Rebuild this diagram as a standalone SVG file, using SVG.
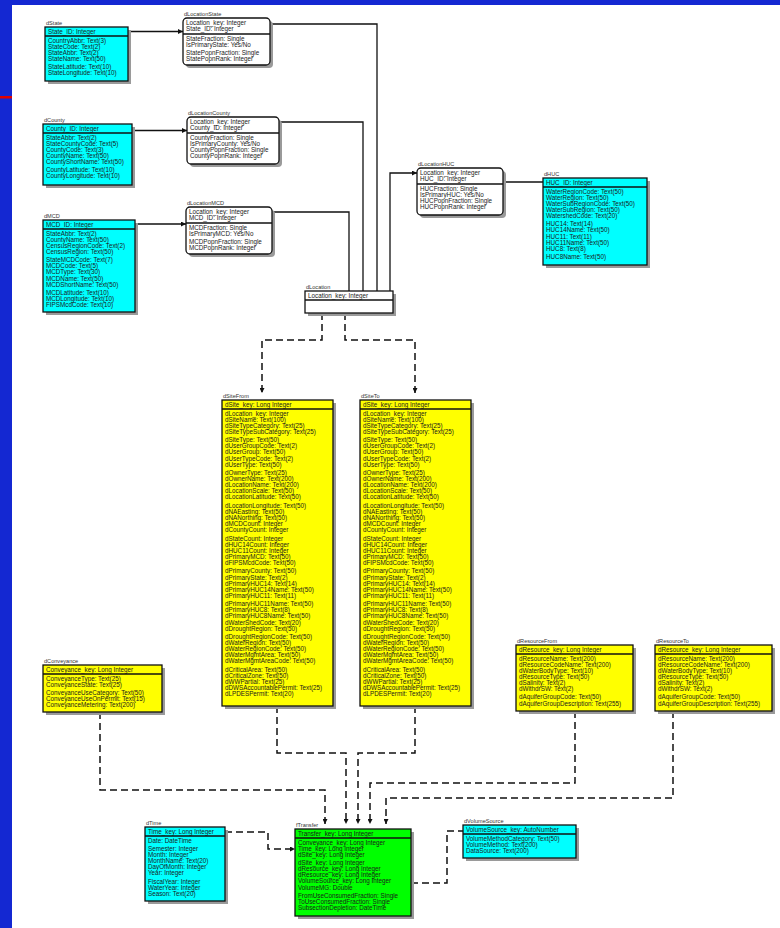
<svg xmlns="http://www.w3.org/2000/svg" width="780" height="928" viewBox="0 0 780 928">
<style>
  .bg{fill:#1428d2}
  .panel{fill:#ffffff}
  .sh{fill:#9a9a9a}
  .box{stroke:#111;stroke-width:1.3}
  .cy{fill:#00ffff}
  .ye{fill:#ffff00}
  .gr{fill:#00ff00}
  .wh{fill:#ffffff}
  .sep{stroke:#111;stroke-width:1.3}
  text{font-family:"Liberation Sans",Arial,sans-serif;font-size:6.3px;fill:#1a1a1a}
  .lb{font-size:5.6px;fill:#333}
  .solid{fill:none;stroke:#111;stroke-width:1.3}
  .dash{fill:none;stroke:#111;stroke-width:1.5;stroke-dasharray:7 4}
</style>
<defs>
  <marker id="ah" viewBox="0 0 6 6" refX="6" refY="3" markerWidth="5" markerHeight="5" markerUnits="userSpaceOnUse" orient="auto">
    <path d="M0,0 L6,3 L0,6 z" fill="#111"/>
  </marker>
</defs>

<!-- slide background -->
<rect class="bg" x="0" y="0" width="780" height="928"/>
<rect class="panel" x="12" y="5" width="768" height="923"/>
<rect x="0" y="96" width="12" height="2.5" fill="#e00000"/>

<!-- relationship lines -->
<g id="connectors">
  <path class="solid" d="M128,31.5 H183" marker-end="url(#ah)"/>
  <path class="solid" d="M270,24 H377 V291"/>
  <path class="solid" d="M132,130.5 H187" marker-end="url(#ah)"/>
  <path class="solid" d="M279,122 H363 V291"/>
  <path class="solid" d="M135,224 H186" marker-end="url(#ah)"/>
  <path class="solid" d="M272,212 H349 V291"/>
  <path class="solid" d="M390,291 V173 H417" marker-end="url(#ah)"/>
  <path class="solid" d="M543,182 H503"/>

  <path class="dash" d="M322,313 V340 H262 V393" marker-end="url(#ah)"/>
  <path class="dash" d="M345,313 V340 H415 V393" marker-end="url(#ah)"/>
  <path class="dash" d="M277,706 V753 H346 V824" marker-end="url(#ah)"/>
  <path class="dash" d="M415,706 V753 H358 V824" marker-end="url(#ah)"/>
  <path class="dash" d="M100,712 V790 H325 V824" marker-end="url(#ah)"/>
  <path class="dash" d="M575,711 V783 H370 V824" marker-end="url(#ah)"/>
  <path class="dash" d="M673,711 V798 H386 V824" marker-end="url(#ah)"/>
  <path class="dash" d="M225,832 H268 V849 H295" marker-end="url(#ah)"/>
  <path class="dash" d="M411,883 H447 V831 H463"/>
</g>

<!-- dState -->
<g id="dState">
  <text class="lb" x="46" y="25">dState</text>
  <rect class="sh" x="48" y="30" width="83" height="54"/>
  <rect class="box cy" x="45" y="27" width="83" height="54"/>
  <line class="sep" x1="45" y1="36" x2="128" y2="36"/>
  <text x="48" y="33.8">State_ID: Integer</text>
  <text><tspan x="48" y="42.5">CountryAbbr: Text(3)</tspan><tspan x="48" y="48.6">StateCode: Text(2)</tspan><tspan x="48" y="54.7">StateAbbr: Text(2)</tspan><tspan x="48" y="60.8">StateName: Text(50)</tspan><tspan x="48" y="69.2">StateLatitude: Text(10)</tspan><tspan x="48" y="75.3">StateLongitude: Text(10)</tspan></text>
</g>

<!-- dLocationState -->
<g id="dLocationState">
  <text class="lb" x="184" y="16">dLocationState</text>
  <rect class="sh" x="186" y="21" width="87" height="47" rx="4"/>
  <rect class="box wh" x="183" y="18" width="87" height="47" rx="4"/>
  <line class="sep" x1="183" y1="34" x2="270" y2="34"/>
  <text><tspan x="186" y="24.5">Location_key: Integer</tspan><tspan x="186" y="30.6">State_ID: Integer</tspan></text>
  <text><tspan x="186" y="40.5">StateFraction: Single</tspan><tspan x="186" y="46.6">IsPrimaryState: Yes/No</tspan><tspan x="186" y="55">StatePopnFraction: Single</tspan><tspan x="186" y="61.1">StatePopnRank: Integer</tspan></text>
</g>

<!-- dCounty -->
<g id="dCounty">
  <text class="lb" x="44" y="122">dCounty</text>
  <rect class="sh" x="46" y="127" width="89" height="61"/>
  <rect class="box cy" x="43" y="124" width="89" height="61"/>
  <line class="sep" x1="43" y1="133" x2="132" y2="133"/>
  <text x="46" y="130.8">County_ID: Integer</text>
  <text><tspan x="46" y="139.5">StateAbbr: Text(2)</tspan><tspan x="46" y="145.6">StateCountyCode: Text(5)</tspan><tspan x="46" y="151.7">CountyCode: Text(3)</tspan><tspan x="46" y="157.8">CountyName: Text(50)</tspan><tspan x="46" y="163.9">CountyShortName: Text(50)</tspan><tspan x="46" y="172.3">CountyLatitude: Text(10)</tspan><tspan x="46" y="178.4">CountyLongitude: Text(10)</tspan></text>
</g>

<!-- dLocationCounty -->
<g id="dLocationCounty">
  <text class="lb" x="188" y="115">dLocationCounty</text>
  <rect class="sh" x="190" y="120" width="92" height="47" rx="4"/>
  <rect class="box wh" x="187" y="117" width="92" height="47" rx="4"/>
  <line class="sep" x1="187" y1="133" x2="279" y2="133"/>
  <text><tspan x="190" y="123.5">Location_key: Integer</tspan><tspan x="190" y="129.6">County_ID: Integer</tspan></text>
  <text><tspan x="190" y="139.5">CountyFraction: Single</tspan><tspan x="190" y="145.6">IsPrimaryCounty: Yes/No</tspan><tspan x="190" y="151.7">CountyPopnFraction: Single</tspan><tspan x="190" y="157.8">CountyPopnRank: Integer</tspan></text>
</g>

<!-- dMCD -->
<g id="dMCD">
  <text class="lb" x="44" y="218">dMCD</text>
  <rect class="sh" x="46" y="223" width="92" height="92"/>
  <rect class="box cy" x="43" y="220" width="92" height="92"/>
  <line class="sep" x1="43" y1="229" x2="135" y2="229"/>
  <text x="46" y="226.8">MCD_ID: Integer</text>
  <text><tspan x="46" y="235.5">StateAbbr: Text(2)</tspan><tspan x="46" y="241.6">CountyName: Text(50)</tspan><tspan x="46" y="247.7">CensusRegionCode: Text(2)</tspan><tspan x="46" y="253.8">CensusRegion: Text(50)</tspan><tspan x="46" y="262.2">StateMCDCode: Text(7)</tspan><tspan x="46" y="268.3">MCDCode: Text(5)</tspan><tspan x="46" y="274.4">MCDType: Text(30)</tspan><tspan x="46" y="280.5">MCDName: Text(50)</tspan><tspan x="46" y="286.6">MCDShortName: Text(50)</tspan><tspan x="46" y="295">MCDLatitude: Text(10)</tspan><tspan x="46" y="301.1">MCDLongitude: Text(10)</tspan><tspan x="46" y="307.2">FIPSMcdCode: Text(10)</tspan></text>
</g>

<!-- dLocationMCD -->
<g id="dLocationMCD">
  <text class="lb" x="187" y="205">dLocationMCD</text>
  <rect class="sh" x="189" y="210" width="86" height="47" rx="4"/>
  <rect class="box wh" x="186" y="207" width="86" height="47" rx="4"/>
  <line class="sep" x1="186" y1="223" x2="272" y2="223"/>
  <text><tspan x="189" y="213.5">Location_key: Integer</tspan><tspan x="189" y="219.6">MCD_ID: Integer</tspan></text>
  <text><tspan x="189" y="229.5">MCDFraction: Single</tspan><tspan x="189" y="235.6">IsPrimaryMCD: Yes/No</tspan><tspan x="189" y="244">MCDPopnFraction: Single</tspan><tspan x="189" y="250.1">MCDPopnRank: Integer</tspan></text>
</g>

<!-- dLocationHUC -->
<g id="dLocationHUC">
  <text class="lb" x="418" y="166">dLocationHUC</text>
  <rect class="sh" x="420" y="171" width="86" height="47" rx="4"/>
  <rect class="box wh" x="417" y="168" width="86" height="47" rx="4"/>
  <line class="sep" x1="417" y1="184" x2="503" y2="184"/>
  <text><tspan x="420" y="174.5">Location_key: Integer</tspan><tspan x="420" y="180.6">HUC_ID: Integer</tspan></text>
  <text><tspan x="420" y="190.5">HUCFraction: Single</tspan><tspan x="420" y="196.6">IsPrimaryHUC: Yes/No</tspan><tspan x="420" y="202.7">HUCPopnFraction: Single</tspan><tspan x="420" y="208.8">HUCPopnRank: Integer</tspan></text>
</g>

<!-- dHUC -->
<g id="dHUC">
  <text class="lb" x="544" y="176">dHUC</text>
  <rect class="sh" x="546" y="181" width="104" height="87"/>
  <rect class="box cy" x="543" y="178" width="104" height="87"/>
  <line class="sep" x1="543" y1="187" x2="647" y2="187"/>
  <text x="546" y="184.8">HUC_ID: Integer</text>
  <text><tspan x="546" y="193.5">WaterRegionCode: Text(50)</tspan><tspan x="546" y="199.6">WaterRegion: Text(50)</tspan><tspan x="546" y="205.7">WaterSubRegionCode: Text(50)</tspan><tspan x="546" y="211.8">WaterSubRegion: Text(50)</tspan><tspan x="546" y="217.9">WatershedCode: Text(20)</tspan><tspan x="546" y="226.3">HUC14: Text(14)</tspan><tspan x="546" y="232.4">HUC14Name: Text(50)</tspan><tspan x="546" y="238.5">HUC11: Text(11)</tspan><tspan x="546" y="244.6">HUC11Name: Text(50)</tspan><tspan x="546" y="250.7">HUC8: Text(8)</tspan><tspan x="546" y="259.1">HUC8Name: Text(50)</tspan></text>
</g>

<!-- dLocation -->
<g id="dLocation">
  <text class="lb" x="306" y="289">dLocation</text>
  <rect class="sh" x="308" y="294" width="88" height="22"/>
  <rect class="box wh" x="305" y="291" width="88" height="22"/>
  <line class="sep" x1="305" y1="300" x2="393" y2="300"/>
  <text x="308" y="297.8">Location_key: Integer</text>
</g>

<!-- dSiteFrom -->
<g id="dSiteFrom">
  <text class="lb" x="223" y="398">dSiteFrom</text>
  <rect class="sh" x="225" y="403" width="111" height="306"/>
  <rect class="box ye" x="222" y="400" width="111" height="306"/>
  <line class="sep" x1="222" y1="409" x2="333" y2="409"/>
  <text x="225" y="406.8">dSite_key: Long Integer</text>
  <text><tspan x="225" y="415.5">dLocation_key: Integer</tspan><tspan x="225" y="421.6">dSiteName: Text(100)</tspan><tspan x="225" y="427.7">dSiteTypeCategory: Text(25)</tspan><tspan x="225" y="433.8">dSiteTypeSubCategory: Text(25)</tspan><tspan x="225" y="442.2">dSiteType: Text(50)</tspan><tspan x="225" y="448.3">dUserGroupCode: Text(2)</tspan><tspan x="225" y="454.4">dUserGroup: Text(50)</tspan><tspan x="225" y="460.5">dUserTypeCode: Text(2)</tspan><tspan x="225" y="466.6">dUserType: Text(50)</tspan><tspan x="225" y="475">dOwnerType: Text(25)</tspan><tspan x="225" y="481.1">dOwnerName: Text(200)</tspan><tspan x="225" y="487.2">dLocationName: Text(200)</tspan><tspan x="225" y="493.3">dLocationScale: Text(50)</tspan><tspan x="225" y="499.4">dLocationLatitude: Text(50)</tspan><tspan x="225" y="507.8">dLocationLongitude: Text(50)</tspan><tspan x="225" y="513.9">dNAEasting: Text(50)</tspan><tspan x="225" y="520">dNANorthing: Text(50)</tspan><tspan x="225" y="526.1">dMCDCount: Integer</tspan><tspan x="225" y="532.2">dCountyCount: Integer</tspan><tspan x="225" y="540.6">dStateCount: Integer</tspan><tspan x="225" y="546.7">dHUC14Count: Integer</tspan><tspan x="225" y="552.8">dHUC11Count: Integer</tspan><tspan x="225" y="558.9">dPrimaryMCD: Text(50)</tspan><tspan x="225" y="565">dFIPSMcdCode: Text(50)</tspan><tspan x="225" y="573.4">dPrimaryCounty: Text(50)</tspan><tspan x="225" y="579.5">dPrimaryState: Text(2)</tspan><tspan x="225" y="585.6">dPrimaryHUC14: Text(14)</tspan><tspan x="225" y="591.7">dPrimaryHUC14Name: Text(50)</tspan><tspan x="225" y="597.8">dPrimaryHUC11: Text(11)</tspan><tspan x="225" y="606.2">dPrimaryHUC11Name: Text(50)</tspan><tspan x="225" y="612.3">dPrimaryHUC8: Text(8)</tspan><tspan x="225" y="618.4">dPrimaryHUC8Name: Text(50)</tspan><tspan x="225" y="624.5">dWaterShedCode: Text(20)</tspan><tspan x="225" y="630.6">dDroughtRegion: Text(50)</tspan><tspan x="225" y="639">dDroughtRegionCode: Text(50)</tspan><tspan x="225" y="645.1">dWaterRegion: Text(50)</tspan><tspan x="225" y="651.2">dWaterRegionCode: Text(50)</tspan><tspan x="225" y="657.3">dWaterMgmtArea: Text(50)</tspan><tspan x="225" y="663.4">dWaterMgmtAreaCode: Text(50)</tspan><tspan x="225" y="671.8">dCriticalArea: Text(50)</tspan><tspan x="225" y="677.9">dCriticalZone: Text(50)</tspan><tspan x="225" y="684">dWWPartial: Text(25)</tspan><tspan x="225" y="690.1">dDWSAccountablePermit: Text(25)</tspan><tspan x="225" y="696.2">dLPDESPermit: Text(20)</tspan></text>
</g>

<!-- dSiteTo -->
<g id="dSiteTo">
  <text class="lb" x="361" y="398">dSiteTo</text>
  <rect class="sh" x="363" y="403" width="111" height="306"/>
  <rect class="box ye" x="360" y="400" width="111" height="306"/>
  <line class="sep" x1="360" y1="409" x2="471" y2="409"/>
  <text x="363" y="406.8">dSite_key: Long Integer</text>
  <text><tspan x="363" y="415.5">dLocation_key: Integer</tspan><tspan x="363" y="421.6">dSiteName: Text(100)</tspan><tspan x="363" y="427.7">dSiteTypeCategory: Text(25)</tspan><tspan x="363" y="433.8">dSiteTypeSubCategory: Text(25)</tspan><tspan x="363" y="442.2">dSiteType: Text(50)</tspan><tspan x="363" y="448.3">dUserGroupCode: Text(2)</tspan><tspan x="363" y="454.4">dUserGroup: Text(50)</tspan><tspan x="363" y="460.5">dUserTypeCode: Text(2)</tspan><tspan x="363" y="466.6">dUserType: Text(50)</tspan><tspan x="363" y="475">dOwnerType: Text(25)</tspan><tspan x="363" y="481.1">dOwnerName: Text(200)</tspan><tspan x="363" y="487.2">dLocationName: Text(200)</tspan><tspan x="363" y="493.3">dLocationScale: Text(50)</tspan><tspan x="363" y="499.4">dLocationLatitude: Text(50)</tspan><tspan x="363" y="507.8">dLocationLongitude: Text(50)</tspan><tspan x="363" y="513.9">dNAEasting: Text(50)</tspan><tspan x="363" y="520">dNANorthing: Text(50)</tspan><tspan x="363" y="526.1">dMCDCount: Integer</tspan><tspan x="363" y="532.2">dCountyCount: Integer</tspan><tspan x="363" y="540.6">dStateCount: Integer</tspan><tspan x="363" y="546.7">dHUC14Count: Integer</tspan><tspan x="363" y="552.8">dHUC11Count: Integer</tspan><tspan x="363" y="558.9">dPrimaryMCD: Text(50)</tspan><tspan x="363" y="565">dFIPSMcdCode: Text(50)</tspan><tspan x="363" y="573.4">dPrimaryCounty: Text(50)</tspan><tspan x="363" y="579.5">dPrimaryState: Text(2)</tspan><tspan x="363" y="585.6">dPrimaryHUC14: Text(14)</tspan><tspan x="363" y="591.7">dPrimaryHUC14Name: Text(50)</tspan><tspan x="363" y="597.8">dPrimaryHUC11: Text(11)</tspan><tspan x="363" y="606.2">dPrimaryHUC11Name: Text(50)</tspan><tspan x="363" y="612.3">dPrimaryHUC8: Text(8)</tspan><tspan x="363" y="618.4">dPrimaryHUC8Name: Text(50)</tspan><tspan x="363" y="624.5">dWaterShedCode: Text(20)</tspan><tspan x="363" y="630.6">dDroughtRegion: Text(50)</tspan><tspan x="363" y="639">dDroughtRegionCode: Text(50)</tspan><tspan x="363" y="645.1">dWaterRegion: Text(50)</tspan><tspan x="363" y="651.2">dWaterRegionCode: Text(50)</tspan><tspan x="363" y="657.3">dWaterMgmtArea: Text(50)</tspan><tspan x="363" y="663.4">dWaterMgmtAreaCode: Text(50)</tspan><tspan x="363" y="671.8">dCriticalArea: Text(50)</tspan><tspan x="363" y="677.9">dCriticalZone: Text(50)</tspan><tspan x="363" y="684">dWWPartial: Text(25)</tspan><tspan x="363" y="690.1">dDWSAccountablePermit: Text(25)</tspan><tspan x="363" y="696.2">dLPDESPermit: Text(20)</tspan></text>
</g>

<!-- dConveyance -->
<g id="dConveyance">
  <text class="lb" x="44" y="663">dConveyance</text>
  <rect class="sh" x="46" y="668" width="119" height="47"/>
  <rect class="box ye" x="43" y="665" width="119" height="47"/>
  <line class="sep" x1="43" y1="674" x2="162" y2="674"/>
  <text x="46" y="671.8">Conveyance_key: Long Integer</text>
  <text><tspan x="46" y="680.5">ConveyanceType: Text(25)</tspan><tspan x="46" y="686.6">ConveyanceState: Text(25)</tspan><tspan x="46" y="695">ConveyanceUseCategory: Text(50)</tspan><tspan x="46" y="701.1">ConveyanceUseOnPermit: Text(15)</tspan><tspan x="46" y="707.2">ConveyanceMetering: Text(200)</tspan></text>
</g>

<!-- dResourceFrom -->
<g id="dResourceFrom">
  <text class="lb" x="517" y="643">dResourceFrom</text>
  <rect class="sh" x="519" y="648" width="117" height="66"/>
  <rect class="box ye" x="516" y="645" width="117" height="66"/>
  <line class="sep" x1="516" y1="654" x2="633" y2="654"/>
  <text x="519" y="651.8">dResource_key: Long Integer</text>
  <text><tspan x="519" y="660.5">dResourceName: Text(200)</tspan><tspan x="519" y="666.6">dResourceCodeName: Text(200)</tspan><tspan x="519" y="672.7">dWaterBodyType: Text(10)</tspan><tspan x="519" y="678.8">dResourceType: Text(50)</tspan><tspan x="519" y="684.9">dSalinity: Text(2)</tspan><tspan x="519" y="691">dWithdrSW: Text(2)</tspan><tspan x="519" y="699.4">dAquiferGroupCode: Text(50)</tspan><tspan x="519" y="705.5">dAquiferGroupDescription: Text(255)</tspan></text>
</g>

<!-- dResourceTo -->
<g id="dResourceTo">
  <text class="lb" x="656" y="643">dResourceTo</text>
  <rect class="sh" x="658" y="648" width="117" height="66"/>
  <rect class="box ye" x="655" y="645" width="117" height="66"/>
  <line class="sep" x1="655" y1="654" x2="772" y2="654"/>
  <text x="658" y="651.8">dResource_key: Long Integer</text>
  <text><tspan x="658" y="660.5">dResourceName: Text(200)</tspan><tspan x="658" y="666.6">dResourceCodeName: Text(200)</tspan><tspan x="658" y="672.7">dWaterBodyType: Text(10)</tspan><tspan x="658" y="678.8">dResourceType: Text(50)</tspan><tspan x="658" y="684.9">dSalinity: Text(2)</tspan><tspan x="658" y="691">dWithdrSW: Text(2)</tspan><tspan x="658" y="699.4">dAquiferGroupCode: Text(50)</tspan><tspan x="658" y="705.5">dAquiferGroupDescription: Text(255)</tspan></text>
</g>

<!-- dTime -->
<g id="dTime">
  <text class="lb" x="146" y="825">dTime</text>
  <rect class="sh" x="148" y="830" width="80" height="74"/>
  <rect class="box cy" x="145" y="827" width="80" height="74"/>
  <line class="sep" x1="145" y1="836" x2="225" y2="836"/>
  <text x="148" y="833.8">Time_key: Long Integer</text>
  <text><tspan x="148" y="842.5">Date: DateTime</tspan><tspan x="148" y="850.9">Semester: Integer</tspan><tspan x="148" y="857">Month: Integer</tspan><tspan x="148" y="863.1">MonthName: Text(20)</tspan><tspan x="148" y="869.2">DayOfMonth: Integer</tspan><tspan x="148" y="875.3">Year: Integer</tspan><tspan x="148" y="883.7">FiscalYear: Integer</tspan><tspan x="148" y="889.8">WaterYear: Integer</tspan><tspan x="148" y="895.9">Season: Text(20)</tspan></text>
</g>

<!-- fTransfer -->
<g id="fTransfer">
  <text class="lb" x="296" y="827">fTransfer</text>
  <rect class="sh" x="298" y="832" width="116" height="87"/>
  <rect class="box gr" x="295" y="829" width="116" height="87"/>
  <line class="sep" x1="295" y1="838" x2="411" y2="838"/>
  <text x="298" y="835.8">Transfer_key: Long Integer</text>
  <text><tspan x="298" y="844.5">Conveyance_key: Long Integer</tspan><tspan x="298" y="850.6">Time_key: Long Integer</tspan><tspan x="298" y="856.7">dSite_key: Long Integer</tspan><tspan x="298" y="865.1">dSite_key: Long Integer</tspan><tspan x="298" y="871.2">dResource_key: Long Integer</tspan><tspan x="298" y="877.3">dResource_key: Long Integer</tspan><tspan x="298" y="883.4">VolumeSource_key: Long Integer</tspan><tspan x="298" y="889.5">VolumeMG: Double</tspan><tspan x="298" y="897.9">FromUseConsumedFraction: Single</tspan><tspan x="298" y="904">ToUseConsumedFraction: Single</tspan><tspan x="298" y="910.1">SubsectionDepletion: DateTime</tspan></text>
</g>

<!-- dVolumeSource -->
<g id="dVolumeSource">
  <text class="lb" x="464" y="823">dVolumeSource</text>
  <rect class="sh" x="466" y="828" width="113" height="33"/>
  <rect class="box cy" x="463" y="825" width="113" height="33"/>
  <line class="sep" x1="463" y1="834" x2="576" y2="834"/>
  <text x="466" y="831.8">VolumeSource_key: AutoNumber</text>
  <text><tspan x="466" y="840.5">VolumeMethodCategory: Text(50)</tspan><tspan x="466" y="846.6">VolumeMethod: Text(200)</tspan><tspan x="466" y="852.7">DataSource: Text(200)</tspan></text>
</g>
</svg>
